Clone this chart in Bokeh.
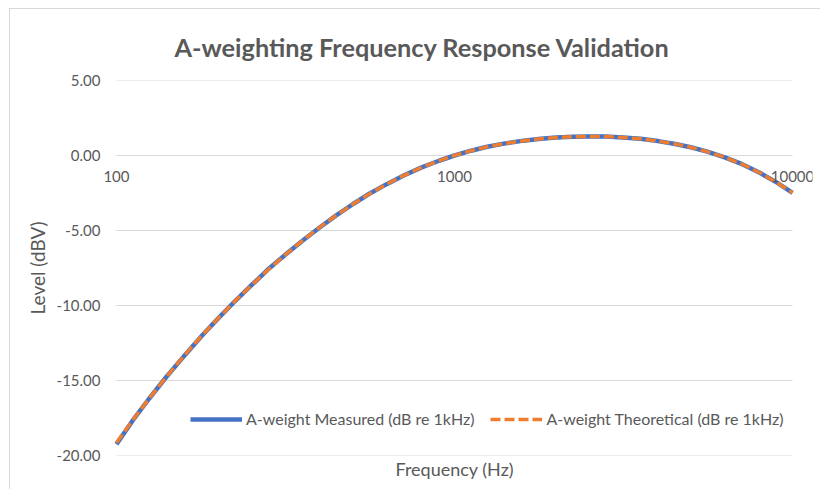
from bokeh.plotting import figure
from bokeh.models import Range1d, FixedTicker, NumeralTickFormatter, PrintfTickFormatter, Legend, LegendItem, Title
from bokeh.embed import file_html
from bokeh.resources import INLINE

# ---- data ----
freq_hz = [100, 112, 125, 140, 160, 180, 200, 224, 250, 280, 315, 355, 400, 450, 500,
           560, 630, 710, 800, 900, 1000, 1120, 1250, 1400, 1600, 1800, 2000, 2240,
           2500, 2800, 3150, 3550, 4000, 4500, 5000, 5600, 6300, 7100, 8000, 9000, 10000]
measured_db = [-19.25, -17.63, -16.20, -14.80, -13.26, -11.95, -10.86, -9.72, -8.68, -7.62,
               -6.64, -5.68, -4.78, -3.94, -3.25, -2.55, -1.91, -1.32, -0.79, -0.35, 0.00,
               0.32, 0.58, 0.79, 0.99, 1.12, 1.20, 1.25, 1.27, 1.26, 1.20, 1.11, 0.96,
               0.77, 0.55, 0.26, -0.12, -0.58, -1.15, -1.81, -2.49]
theoretical_db = [-19.15, -17.61, -16.19, -14.80, -13.24, -11.95, -10.85, -9.72, -8.67, -7.65,
                  -6.64, -5.68, -4.77, -3.94, -3.25, -2.56, -1.91, -1.32, -0.79, -0.35, 0.00,
                  0.32, 0.58, 0.79, 0.99, 1.12, 1.20, 1.25, 1.27, 1.26, 1.20, 1.11, 0.96,
                  0.77, 0.55, 0.26, -0.12, -0.58, -1.15, -1.81, -2.49]
x_ticks = [100, 1000, 10000]
y_ticks = [-20, -15, -10, -5, 0, 5]
series_names = ["A-weight Measured (dB re 1kHz)", "A-weight Theoretical (dB re 1kHz)"]

FONT = "Lato"
TXT = "#595959"

# the visible x range is a little wider than the plotted 100..10000 band,
# so that the tick labels at the ends are not clipped
p = figure(width=811, height=481, x_axis_type="log",
           x_range=Range1d(90.3, 11460), y_range=Range1d(-20, 5),
           output_backend="svg", toolbar_location=None,
           min_border_left=91, min_border_right=9,
           min_border_top=71, min_border_bottom=35)
p.styles = {"margin-left": "9px", "margin-top": "8px",
            "border-left": "1px solid #d9d9d9", "border-top": "1px solid #d9d9d9"}
p.outline_line_color = None
p.background_fill_color = "white"
p.border_fill_color = "white"

# title
p.title.text = "A-weighting Frequency Response Validation"
p.title.text_font = FONT
p.title.text_font_size = "25.3px"
p.title.text_font_style = "bold"
p.title.text_color = TXT
p.title.align = "left"
p.title.offset = 73
p.title.standoff = 38

# horizontal gridlines spanning 100..10000 only
p.xgrid.grid_line_color = None
p.ygrid.grid_line_color = None
n = len(y_ticks)
p.segment(x0=[x_ticks[0]] * n, x1=[x_ticks[-1]] * n, y0=y_ticks, y1=y_ticks,
          line_color="#D9D9D9", line_width=1)

# y axis
p.yaxis.ticker = FixedTicker(ticks=y_ticks)
p.yaxis.formatter = NumeralTickFormatter(format="0.00")
p.yaxis.axis_line_color = None
p.yaxis.major_tick_line_color = None
p.yaxis.minor_tick_line_color = None
p.yaxis.major_tick_out = 0
p.yaxis.major_label_standoff = 1
p.yaxis.major_label_text_font = FONT
p.yaxis.major_label_text_font_size = "15px"
p.yaxis.major_label_text_color = TXT
p.yaxis.axis_label = "Level (dBV)"
p.yaxis.axis_label_text_font = FONT
p.yaxis.axis_label_text_font_size = "19px"
p.yaxis.axis_label_text_font_style = "normal"
p.yaxis.axis_label_text_color = TXT
p.yaxis.axis_label_standoff = 5

# x axis crossing at y = 0, as in the reference
xa = p.xaxis[0]
xa.fixed_location = 0
xa.ticker = FixedTicker(ticks=x_ticks)
xa.formatter = PrintfTickFormatter(format="%d")
xa.axis_line_color = None
xa.major_tick_line_color = None
xa.minor_tick_line_color = None
xa.major_tick_out = 0
xa.major_label_standoff = 15
xa.major_label_text_font = FONT
xa.major_label_text_font_size = "15px"
xa.major_label_text_color = TXT

p.add_layout(Title(text="Frequency (Hz)", align="left", offset=294, text_font=FONT,
                   text_font_size="18px", text_font_style="normal", text_color=TXT,
                   standoff=1), "below")

# lines
r1 = p.line(freq_hz, measured_db, line_color="#4472C4", line_width=4.5)
r2 = p.line(freq_hz, theoretical_db, line_color="#ED7D31", line_width=3.5, line_dash="10 4")

legend = Legend(items=[LegendItem(label=series_names[0], renderers=[r1]),
                       LegendItem(label=series_names[1], renderers=[r2])],
                orientation="horizontal", location=(89, 27),
                padding=0, margin=0, spacing=16, label_standoff=4,
                glyph_width=52, glyph_height=18, label_height=18,
                label_text_font=FONT, label_text_font_size="16px", label_text_color=TXT,
                border_line_color=None, background_fill_alpha=0)
p.add_layout(legend, "center")

open("out.html", "w").write(file_html(p, INLINE))
